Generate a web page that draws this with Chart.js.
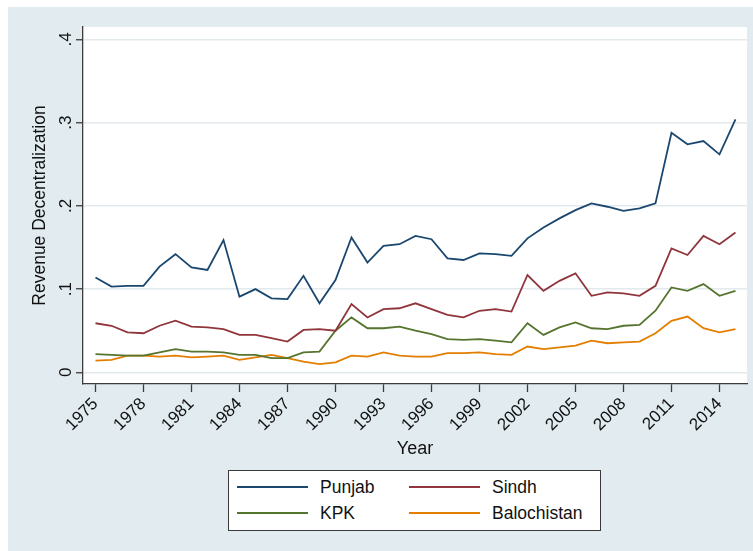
<!DOCTYPE html>
<html>
<head>
<meta charset="utf-8">
<script src="https://cdn.jsdelivr.net/npm/chart.js@4.4.1/dist/chart.umd.min.js"></script>
<style>
  body { margin: 0; background: #fff; }
  #wrap { position: relative; width: 753px; height: 551px; }
  #legend {
    position: absolute; left: 228px; top: 470px; width: 371px; height: 59px;
    background: #fff; border: 1px solid #3a3a3a;
    font-family: "Liberation Sans", Arial, sans-serif; font-size: 17.5px; color: #111;
  }
  .item { position: absolute; height: 20px; line-height: 20px; }
  .item span.line { position: absolute; left: 0; top: 9px; width: 71px; height: 2px; }
  .item span.txt { position: absolute; left: 83px; top: 0; white-space: nowrap; }
</style>
</head>
<body>
<div id="wrap">
  <canvas id="chart" width="753" height="551"></canvas>
  <div id="legend"></div>
</div>
<script>
const years = [1975, 1976, 1977, 1978, 1979, 1980, 1981, 1982, 1983, 1984,
               1985, 1986, 1987, 1988, 1989, 1990, 1991, 1992, 1993, 1994,
               1995, 1996, 1997, 1998, 1999, 2000, 2001, 2002, 2003, 2004,
               2005, 2006, 2007, 2008, 2009, 2010, 2011, 2012, 2013, 2014, 2015];

const punjab = [0.114, 0.103, 0.104, 0.104, 0.127, 0.142, 0.126, 0.123, 0.159, 0.091,
                0.100, 0.089, 0.088, 0.116, 0.083, 0.111, 0.162, 0.132, 0.152, 0.154,
                0.164, 0.160, 0.137, 0.135, 0.143, 0.142, 0.140, 0.161, 0.174, 0.185,
                0.195, 0.203, 0.199, 0.194, 0.197, 0.203, 0.288, 0.274, 0.278, 0.262, 0.304];

const sindh = [0.059, 0.056, 0.048, 0.047, 0.056, 0.062, 0.055, 0.054, 0.052, 0.045,
               0.045, 0.041, 0.037, 0.051, 0.052, 0.050, 0.082, 0.066, 0.076, 0.077,
               0.083, 0.076, 0.069, 0.066, 0.074, 0.076, 0.073, 0.117, 0.098, 0.110,
               0.119, 0.092, 0.096, 0.095, 0.092, 0.104, 0.149, 0.141, 0.164, 0.154, 0.168];

const kpk = [0.022, 0.021, 0.020, 0.020, 0.024, 0.028, 0.025, 0.025, 0.024, 0.021,
             0.021, 0.017, 0.017, 0.024, 0.025, 0.050, 0.066, 0.053, 0.053, 0.055,
             0.050, 0.046, 0.040, 0.039, 0.040, 0.038, 0.036, 0.059, 0.045, 0.054,
             0.060, 0.053, 0.052, 0.056, 0.057, 0.074, 0.102, 0.098, 0.106, 0.092, 0.098];

const balochistan = [0.014, 0.015, 0.020, 0.020, 0.019, 0.020, 0.018, 0.019, 0.020, 0.015,
                     0.018, 0.021, 0.017, 0.013, 0.010, 0.012, 0.020, 0.019, 0.024, 0.020,
                     0.019, 0.019, 0.023, 0.023, 0.024, 0.022, 0.021, 0.031, 0.028, 0.030,
                     0.032, 0.038, 0.035, 0.036, 0.037, 0.047, 0.062, 0.067, 0.053, 0.048, 0.052];

const xTicks = [1975, 1978, 1981, 1984, 1987, 1990, 1993, 1996, 1999, 2002, 2005, 2008, 2011, 2014];
const yTicks = [0, 0.1, 0.2, 0.3, 0.4];
const yTickLabels = ["0", ".1", ".2", ".3", ".4"];

const FONT = "'Liberation Sans', Arial, sans-serif";
const axisColor = "#3c3c3c";
const gridColor = "#e2eaee";
const bgColor = "#e2ebef";

function pts(vals) {
    return years.map((yr, i) => ({ x: yr, y: vals[i] }));
}

const series = [
    { label: "Punjab", data: punjab, color: "#1a476f" },
    { label: "Sindh", data: sindh, color: "#90353b" },
    { label: "KPK", data: kpk, color: "#55752f" },
    { label: "Balochistan", data: balochistan, color: "#e37e00" }
];

const background = {
    id: "background",
    beforeDraw(chart) {
        const c = chart.ctx, a = chart.chartArea;
        c.save();
        c.fillStyle = "#fff";
        c.fillRect(0, 0, chart.width, chart.height);
        c.fillStyle = bgColor;
        c.fillRect(8, 7, chart.width - 8, chart.height - 7);
        c.fillStyle = "#fff";
        c.fillRect(a.left, a.top, a.right - a.left, a.bottom - a.top);
        c.restore();
    }
};

const chart = new Chart(document.getElementById("chart").getContext("2d"), {
    type: "line",
    data: {
        datasets: series.map(s => ({
            label: s.label,
            data: pts(s.data),
            borderColor: s.color,
            backgroundColor: s.color,
            borderWidth: 1.8,
            pointRadius: 0,
            tension: 0,
            fill: false
        }))
    },
    options: {
        responsive: false,
        animation: false,
        layout: { padding: { left: 0, top: 27, right: 6, bottom: 91 } },
        plugins: { legend: { display: false }, tooltip: { enabled: false } },
        scales: {
            x: {
                type: "linear",
                min: 1974.22,
                max: 2015.72,
                afterBuildTicks: s => { s.ticks = xTicks.map(v => ({ value: v })); },
                afterFit: s => { s.height = 76; },
                ticks: {
                    autoSkip: false,
                    minRotation: 45,
                    maxRotation: 45,
                    padding: 2,
                    color: "#111",
                    font: { family: FONT, size: 17 },
                    callback: v => String(v)
                },
                grid: { drawOnChartArea: false, tickLength: 8, tickColor: axisColor, tickWidth: 1.3 },
                border: { color: axisColor, width: 1.3 },
                title: {
                    display: true, text: "Year", color: "#111",
                    font: { family: FONT, size: 18 }, padding: { top: 0, bottom: 0 }
                }
            },
            y: {
                min: -0.014,
                max: 0.415,
                afterBuildTicks: s => { s.ticks = yTicks.map(v => ({ value: v })); },
                afterFit: s => { s.width = 83; },
                ticks: {
                    minRotation: 90,
                    maxRotation: 90,
                    crossAlign: "center",
                    padding: 3,
                    color: "#111",
                    font: { family: FONT, size: 17 },
                    callback: v => yTickLabels[yTicks.findIndex(t => Math.abs(t - v) < 1e-9)]
                },
                grid: { color: gridColor, lineWidth: 1.5, tickLength: 7, tickColor: axisColor, tickWidth: 1.3 },
                border: { color: axisColor, width: 1.3 },
                title: {
                    display: true, text: "Revenue Decentralization", color: "#111",
                    font: { family: FONT, size: 17.5 }, padding: { top: 30, bottom: 0 }
                }
            }
        }
    },
    plugins: [background]
});

// legend: two columns, built from the chart's datasets
const legend = document.getElementById("legend");
chart.data.datasets.forEach((ds, i) => {
    const item = document.createElement("div");
    item.className = "item";
    item.style.left = (i % 2 === 0 ? 8 : 180) + "px";
    item.style.top = (i < 2 ? 6 : 32) + "px";
    item.innerHTML = '<span class="line" style="background:' + ds.borderColor + '"></span>' +
                     '<span class="txt">' + ds.label + '</span>';
    legend.appendChild(item);
});
</script>
</body>
</html>
